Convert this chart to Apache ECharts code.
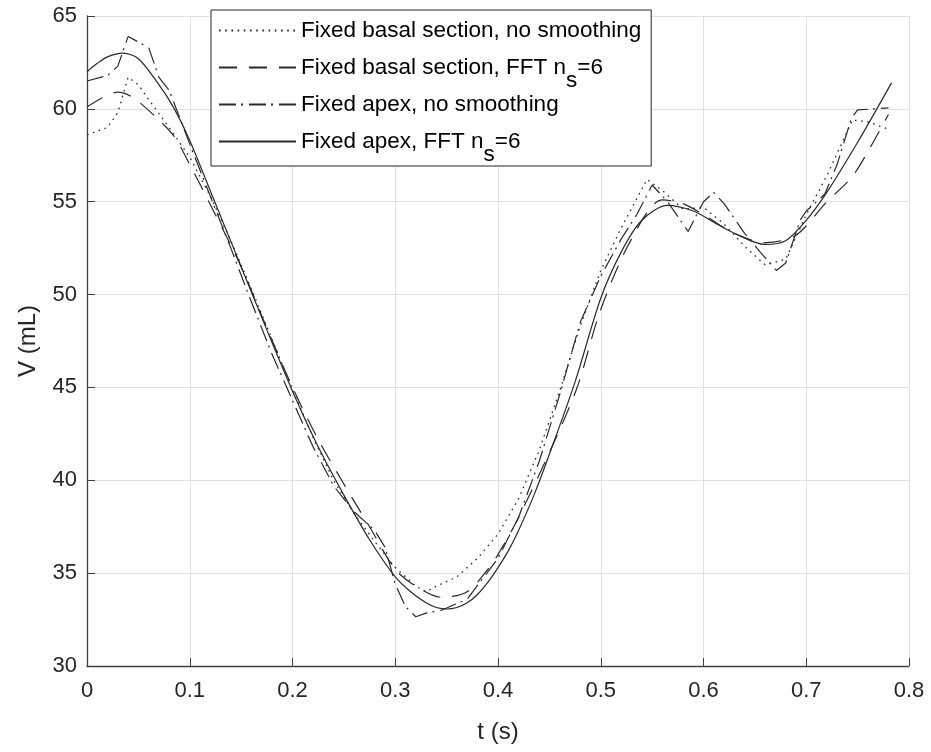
<!DOCTYPE html>
<html>
<head>
<meta charset="utf-8">
<script src="https://cdn.jsdelivr.net/npm/echarts@6/dist/echarts.min.js"></script>
<style>
html,body{margin:0;padding:0;background:#fff;}
#chart{width:931px;height:752px;}
</style>
</head>
<body>
<div id="chart"></div>
<script>
// ---- data ----
const seriesNames = [
  'Fixed basal section, no smoothing',
  'Fixed basal section, FFT n_s=6',
  'Fixed apex, no smoothing',
  'Fixed apex, FFT n_s=6'
];
const xTickLabels = ['0','0.1','0.2','0.3','0.4','0.5','0.6','0.7','0.8'];
const yTickLabels = ['30','35','40','45','50','55','60','65'];

// Fixed basal section, no smoothing (dotted)
const tBasalRaw = [0,0.02,0.03,0.04,0.05,0.06,0.08,0.1,0.12,0.14,0.16,0.18,0.2,0.22,0.24,0.26,0.28,0.3,0.32,0.33,0.34,0.36,0.38,0.4,0.42,0.44,0.46,0.48,0.5,0.52,0.545,0.56,0.58,0.6,0.62,0.64,0.66,0.68,0.69,0.7,0.72,0.745,0.76,0.78];
const vBasalRaw = [58.6,59.0,59.8,61.7,61.3,60.5,59.0,57.4,55.3,52.9,50.3,47.6,44.9,42.3,40.0,38.2,36.7,35.3,34.3,34.0,34.3,34.8,35.8,37.1,39.0,41.6,44.8,48.3,51.3,53.6,56.2,55.6,54.6,54.7,53.8,52.6,51.6,51.9,53.1,54.3,56.4,59.4,59.3,58.9];

// Fixed basal section, FFT ns=6 (dashed)
const tBasalFFT = [0,0.015,0.03,0.045,0.07,0.085,0.1,0.125,0.15,0.175,0.2,0.225,0.25,0.275,0.3,0.32,0.345,0.37,0.39,0.4,0.42,0.45,0.477,0.5,0.53,0.56,0.58,0.6,0.63,0.66,0.69,0.72,0.744,0.76,0.78];
const vBasalFFT = [60.1,60.6,60.9,60.6,59.4,58.5,57.0,54.3,51.5,48.2,45.0,42.2,39.8,37.5,35.2,34.3,33.7,34.0,35.2,36.0,38.0,41.5,45.0,49.2,53.0,55.1,54.9,54.3,53.3,52.8,53.2,55.0,56.3,57.7,59.7];

// Fixed apex, no smoothing (dash-dot)
const tApexRaw = [0,0.02,0.03,0.04,0.06,0.07,0.08,0.1,0.12,0.14,0.16,0.18,0.2,0.22,0.24,0.26,0.28,0.29,0.3,0.31,0.32,0.33,0.345,0.37,0.4,0.42,0.44,0.46,0.48,0.5,0.52,0.535,0.55,0.565,0.585,0.6,0.61,0.62,0.64,0.655,0.671,0.68,0.694,0.7,0.718,0.73,0.744,0.75,0.767,0.78];
const vApexRaw = [61.5,61.8,62.3,63.9,63.3,61.7,61.0,58.1,55.3,52.5,49.6,46.8,44.3,41.8,39.7,38.3,37.3,36.4,34.4,33.2,32.65,32.85,33.0,33.6,35.8,38.0,41.0,44.6,48.5,51.0,53.0,54.3,55.9,55.0,53.4,55.0,55.5,54.9,53.3,52.3,51.3,51.7,54.0,54.5,55.4,57.0,59.5,59.95,60.0,60.05];

// Fixed apex, FFT ns=6 (solid)
const tApexFFT = [0,0.01,0.02,0.035,0.05,0.07,0.085,0.1,0.125,0.15,0.175,0.2,0.225,0.25,0.275,0.3,0.315,0.33,0.34,0.35,0.36,0.37,0.38,0.39,0.4,0.41,0.42,0.435,0.45,0.475,0.5,0.52,0.54,0.565,0.59,0.61,0.63,0.66,0.68,0.7,0.72,0.75,0.783];
const vApexFFT = [62.0,62.45,62.8,63.0,62.7,61.3,60.0,58.3,54.9,51.5,48.1,44.8,41.8,39.2,36.8,34.8,34.0,33.4,33.15,33.07,33.15,33.4,33.85,34.5,35.3,36.2,37.3,39.2,41.4,45.3,49.8,52.3,54.0,54.8,54.5,53.9,53.3,52.7,52.9,54.0,55.5,58.2,61.4];

// ---- chart ----
const FONT = "'Liberation Sans', Arial, sans-serif";
const TXT = '#262626';
function pairs(t, v){ return t.map((x,i)=>[x, v[i]]); }
const styles = [
  {type:[1.6,4.6], width:1.3, smooth:false},
  {type:[18,12], width:1.2, smooth:0.3},
  {type:[17,5,2,6], width:1.2, smooth:false},
  {type:'solid', width:1.2, smooth:0.3}
];
const datas = [pairs(tBasalRaw,vBasalRaw), pairs(tBasalFFT,vBasalFFT), pairs(tApexRaw,vApexRaw), pairs(tApexFFT,vApexFFT)];

const chart = echarts.init(document.getElementById('chart'), null, {renderer:'canvas'});
chart.setOption({
  animation:false,
  backgroundColor:'#fff',
  grid:{left:87, top:16, right:22, bottom:86, containLabel:false},
  xAxis:{
    type:'value', min:0, max:0.8, interval:0.1,
    name:'t (s)', nameLocation:'middle', nameGap:54,
    nameTextStyle:{fontSize:24, color:TXT, fontFamily:FONT},
    axisLine:{show:true, onZero:false, lineStyle:{color:'#404040', width:1.3}},
    axisTick:{show:true, inside:true, length:8, lineStyle:{color:'#404040'}},
    axisLabel:{fontSize:22, color:TXT, fontFamily:FONT, margin:14,
      formatter:(v)=>xTickLabels[Math.round(v*10)]},
    splitLine:{show:true, lineStyle:{color:'#e2e2e2', width:1}}
  },
  yAxis:{
    type:'value', min:30, max:65, interval:5,
    name:'V (mL)', nameLocation:'middle', nameGap:47,
    nameTextStyle:{fontSize:24, color:TXT, fontFamily:FONT},
    axisLine:{show:true, onZero:false, lineStyle:{color:'#404040', width:1.3}},
    axisTick:{show:true, inside:true, length:8, lineStyle:{color:'#404040'}},
    axisLabel:{fontSize:22, color:TXT, fontFamily:FONT, margin:10,
      formatter:(v)=>yTickLabels[Math.round((v-30)/5)]},
    splitLine:{show:true, lineStyle:{color:'#e2e2e2', width:1}}
  },
  legend:{
    orient:'vertical', left:211, top:10,
    padding:[9,10,0,7], itemGap:1,
    itemWidth:77, itemHeight:14,
    backgroundColor:'#fff', borderColor:'#262626', borderWidth:1,
    itemStyle:{opacity:0, borderWidth:0},
    data:seriesNames,
    textStyle:{fontSize:22.5, color:'#000', fontFamily:FONT,
      rich:{
        m:{fontSize:22.5, lineHeight:26, color:'#000', fontFamily:FONT},
        s:{fontSize:22.5, lineHeight:26, padding:[26,0,0,0], color:'#000', fontFamily:FONT}
      }
    },
    formatter:(name)=>{
      const p = name.split('n_s');
      if (p.length === 1) return '{m|' + name + '}';
      return '{m|' + p[0] + 'n}{s|s}{m|' + p[1] + '}';
    }
  },
  series: seriesNames.map((n,i)=>({
    name:n, type:'line', data:datas[i],
    showSymbol:false, symbol:'none', smooth:styles[i].smooth,
    lineStyle:{color:'#2a2a2a', width:styles[i].width, type:styles[i].type},
    itemStyle:{color:'#2a2a2a'},
    z:3
  }))
});
</script>
</body>
</html>
